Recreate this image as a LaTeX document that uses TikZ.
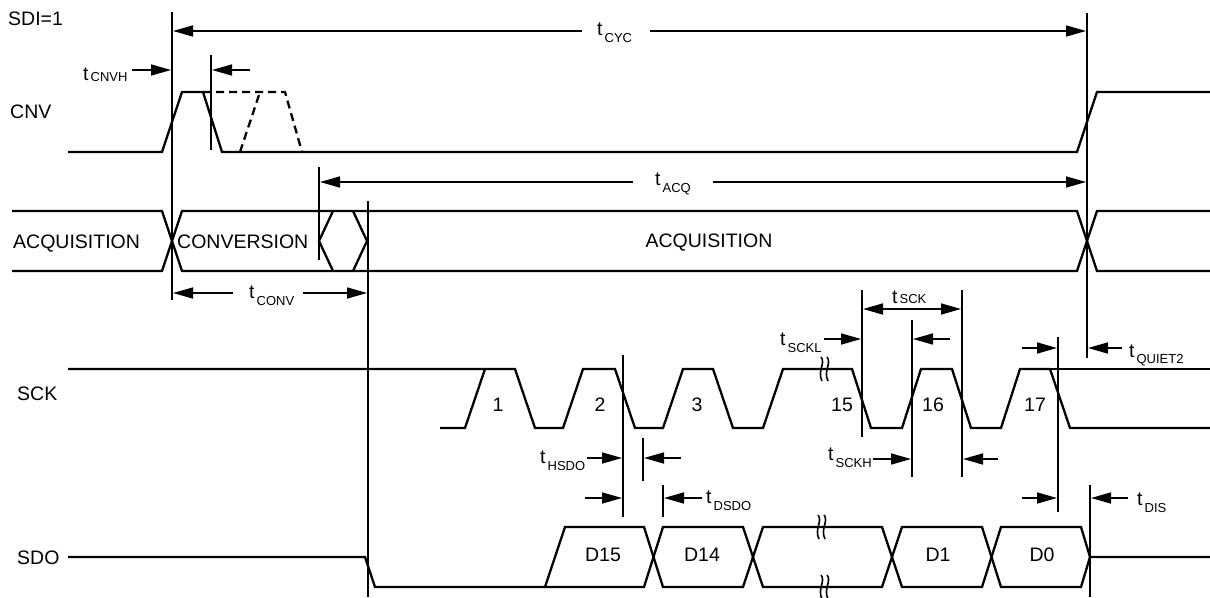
\documentclass[tikz,border=0pt]{standalone}
\usepackage{fontspec}
\setmainfont{Liberation Sans}
\usetikzlibrary{arrows.meta}
\newcommand{\tsb}[2][7]{t\hspace{2pt}\raisebox{-#1pt}{\fontsize{13}{13}\selectfont #2}}
\tikzset{
  sig/.style={line width=2.3pt, line join=miter, line cap=butt},
  dsig/.style={sig, dash pattern=on 8pt off 5pt},
  vline/.style={line width=1.4pt},
  dim/.style={line width=1.6pt, -{Triangle[length=20pt,width=11pt]}},
  ddim/.style={line width=1.6pt, {Triangle[length=20pt,width=11pt]}-{Triangle[length=20pt,width=11pt]}},
  lbl/.style={inner sep=0pt, anchor=base west, font=\fontsize{19.5}{22}\selectfont},
  clbl/.style={inner sep=0pt, anchor=base, font=\fontsize{19.5}{22}\selectfont},
  wig/.style={line width=1.6pt},
}
\newcommand{\wiggle}[2]{%
  \draw[wig] (#1-2,#2-12) .. controls (#1+3,#2-6) and (#1-6,#2+2) .. (#1-1,#2+12);
  \draw[wig] (#1+4,#2-12) .. controls (#1+9,#2-6) and (#1,#2+2) .. (#1+5,#2+12);}
\begin{document}
\begin{tikzpicture}[x=1pt,y=-1pt]
\useasboundingbox (0,0) rectangle (1210,597);

% ---- signal names
\node[lbl] (sdi) at (8,25) {SDI=1};
\node[lbl] (cnvl) at (10,118) {CNV};
\node[lbl] (acql) at (13,248) {ACQUISITION};
\node[lbl] (sckl) at (17,400) {SCK};
\node[lbl] (sdol) at (17,564) {SDO};

% ---- CNV
\draw[sig] (68,152) -- (162,152) -- (182,92) -- (203,92) -- (222,152) -- (1077,152) -- (1097,92) -- (1210,92);
\draw[dsig] (203,92) -- (285,92) -- (302,152);
\draw[dsig] (240,152) -- (260,92);

% ---- ACQ / CONV row
\draw[sig] (12,211) -- (162,211) -- (182,271) -- (1077,271) -- (1097,211) -- (1210,211);
\draw[sig] (12,271) -- (162,271) -- (182,211) -- (1077,211) -- (1097,271) -- (1210,271);
\draw[sig] (333,211) -- (319,241) -- (333,271);
\draw[sig] (353,211) -- (367,241) -- (353,271);
\node[lbl] (conv) at (177,248) {CONVERSION};
\node[clbl] (acqm) at (709,247) {ACQUISITION};

% ---- SCK
\draw[sig] (68,369) -- (515,369) -- (535,428) -- (563,428) -- (583,369) -- (615,369) -- (635,428) -- (663,428) -- (683,369) -- (713,369) -- (733,428) -- (763,428) -- (783,369) -- (852,369) -- (871,428) -- (902,428) -- (921,369) -- (952,369) -- (971,428) -- (1001,428) -- (1020,369) -- (1050,369) -- (1070,428) -- (1210,428);
\draw[sig] (1050,369) -- (1210,369);
\draw[sig] (440,428) -- (465,428) -- (485,369);
\wiggle{823}{369}
\node[clbl] (n1) at (498,411) {1};
\node[clbl] (n2) at (600,411) {2};
\node[clbl] (n3) at (697,411) {3};
\node[clbl] (n15) at (842,411) {15};
\node[clbl] (n16) at (933,411) {16};
\node[clbl] (n17) at (1035,411) {17};

% ---- SDO
\draw[sig] (68,557) -- (365,557) -- (375,587) -- (545,587) -- (565,527) -- (644,527) -- (663,587) -- (743,587) -- (763,527) -- (882,527) -- (902,587) -- (982,587) -- (1001,527) -- (1081,527) -- (1090,557) -- (1210,557);
\draw[sig] (545,587) -- (644,587) -- (663,527) -- (743,527) -- (763,587) -- (882,587) -- (902,527) -- (982,527) -- (1001,587) -- (1081,587) -- (1090,557);
\wiggle{820}{527}
\wiggle{823}{587}
\node[clbl] (d15) at (603,561) {D15};
\node[clbl] (d14) at (702,561) {D14};
\node[clbl] (d1) at (938,561) {D1};
\node[clbl] (d0) at (1042,561) {D0};

% ---- reference lines
\coordinate (c172t) at (172,12);   \coordinate (c172b) at (172,300);
\coordinate (c211t) at (211,55);   \coordinate (c211b) at (211,150);
\coordinate (c1087t) at (1087,13); \coordinate (c1087b) at (1087,358);
\coordinate (c319t) at (319,167);  \coordinate (c319b) at (319,260);
\coordinate (c368t) at (368,201);  \coordinate (c368b) at (368,597);
\coordinate (c623t) at (623,355);  \coordinate (c623b) at (623,517);
\coordinate (c643t) at (643,438);  \coordinate (c643b) at (643,481);
\coordinate (c663t) at (663,485);  \coordinate (c663b) at (663,517);
\coordinate (c862t) at (862,290);  \coordinate (c862b) at (862,437);
\coordinate (c962t) at (962,290);  \coordinate (c962b) at (962,477);
\coordinate (c912t) at (912,320);  \coordinate (c912b) at (912,477);
\coordinate (c1058t) at (1058,337);\coordinate (c1058b) at (1058,512);
\coordinate (c1090t) at (1090,485);\coordinate (c1090b) at (1090,597);
\foreach \n in {172,211,1087,319,368,623,643,663,862,962,912,1058,1090}
  \draw[vline] (c\n t) -- (c\n b);

% ---- timing arrows
\draw[dim] (132,70) -- (171,70);
\draw[dim] (250,70) -- (212,70);
\node[lbl] (tcnvh) at (83,80) {\tsb[1]{CNVH}};

\draw[dim] (582,31) -- (173,31);
\draw[dim] (650,31) -- (1086,31);
\node[lbl] (tcyc) at (597,35) {\tsb{CYC}};

\draw[dim] (633,182) -- (320,182);
\draw[dim] (713,182) -- (1086,182);
\node[lbl] (tacq) at (655,185) {\tsb{ACQ}};

\draw[dim] (233,293) -- (173,293);
\draw[dim] (303,293) -- (367,293);
\node[lbl] (tconv) at (249,298) {\tsb{CONV}};

\draw[ddim] (863,309) -- (961,309);
\node[lbl] (tsck) at (892,303) {\tsb[0]{SCK}};

\draw[dim] (824,339) -- (861,339);
\draw[dim] (950,339) -- (913,339);
\node[lbl] (tsckl) at (780,345) {\tsb{SCKL}};

\draw[dim] (873,459) -- (911,459);
\draw[dim] (998,459) -- (963,459);
\node[lbl] (tsckh) at (828,460) {\tsb{SCKH}};

\draw[dim] (587,458) -- (622,458);
\draw[dim] (681,458) -- (644,458);
\node[lbl] (thsdo) at (540,463) {\tsb{HSDO}};

\draw[dim] (585,498) -- (622,498);
\draw[dim] (702,498) -- (664,498);
\node[lbl] (tdsdo) at (706,503) {\tsb{DSDO}};

\draw[dim] (1022,348) -- (1057,348);
\draw[dim] (1122,348) -- (1088,348);
\node[lbl] (tquiet) at (1129,357) {\tsb[6]{QUIET2}};

\draw[dim] (1022,498) -- (1057,498);
\draw[dim] (1128,498) -- (1091,498);
\node[lbl] (tdis) at (1137,505) {\tsb{DIS}};
\end{tikzpicture}
\end{document}
